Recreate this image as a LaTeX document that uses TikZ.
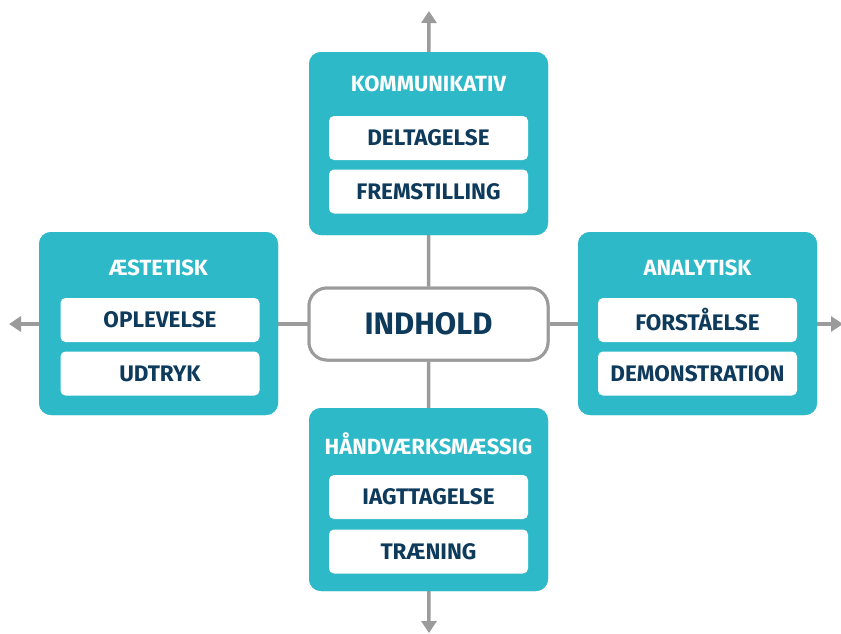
\documentclass[tikz,border=0pt]{standalone}
\usepackage{fontspec}
\setmainfont{Fira Sans}
\usetikzlibrary{arrows.meta}
\definecolor{teal}{HTML}{2EB9C9}
\definecolor{navy}{HTML}{0E3A5C}
\definecolor{lgray}{HTML}{9B9B9B}
\tikzset{
  group/.style={fill=teal, rounded corners=12pt, minimum width=239pt, minimum height=183pt, inner sep=0pt},
  item/.style={fill=white, rounded corners=5pt, minimum width=199pt, minimum height=44pt, inner sep=0pt, text=navy, font=\fontsize{22.5}{24}\selectfont\bfseries},
  gtitle/.style={text=white, font=\fontsize{22}{24}\selectfont\bfseries, inner sep=0pt},
  center/.style={draw=lgray, line width=3pt, fill=white, rounded corners=18pt, minimum width=239pt, minimum height=72pt, text=navy, font=\fontsize{31}{33}\selectfont\bfseries},
  axis/.style={draw=lgray, line width=3.5pt, -{Triangle[length=12pt,width=15pt]}},
  link/.style={draw=lgray, line width=3.5pt}
}
\begin{document}
\begin{tikzpicture}[x=1pt,y=-1pt]
\useasboundingbox (0,0) rectangle (841,633);
\coordinate (tN) at (429,11);
\coordinate (tS) at (429,633);
\coordinate (tW) at (9,324);
\coordinate (tE) at (843,324);
\node[center] (c) at (428.5,324) {};
\node[group] (gN) at (428.5,143.5) {};
\node[group] (gS) at (428.5,499.5) {};
\node[group] (gW) at (158.5,323.5) {};
\node[group] (gE) at (697.5,323.5) {};
\draw[axis] (c.north) -- (tN);
\draw[axis] (c.south) -- (tS);
\draw[axis] (c.east) -- (tE);
\draw[axis] (c.west) -- (tW);
\node[group] at (gN) {};
\node[group] at (gS) {};
\node[group] at (gW) {};
\node[group] at (gE) {};
\node[center] at (c) {INDHOLD};
% north
\node[gtitle] (tn) at (428.5,84) {KOMMUNIKATIV};
\node[item] (n1) at (428.5,138) {DELTAGELSE};
\node[item] (n2) at (428.5,191.5) {FREMSTILLING};
% west
\node[gtitle] (tw) at (158.5,268) {ÆSTETISK};
\node[item] (w1) at (160,320) {OPLEVELSE};
\node[item] (w2) at (160,373.5) {UDTRYK};
% east
\node[gtitle] (te) at (697.5,268) {ANALYTISK};
\node[item] (e1) at (697.5,320) {FORSTÅELSE};
\node[item] (e2) at (697.5,373.5) {DEMONSTRATION};
% south
\node[gtitle] (ts) at (428.5,444) {HÅNDVÆRKSMÆSSIG};
\node[item] (s1) at (428.5,497) {IAGTTAGELSE};
\node[item] (s2) at (428.5,551.5) {TRÆNING};
\end{tikzpicture}
\end{document}
